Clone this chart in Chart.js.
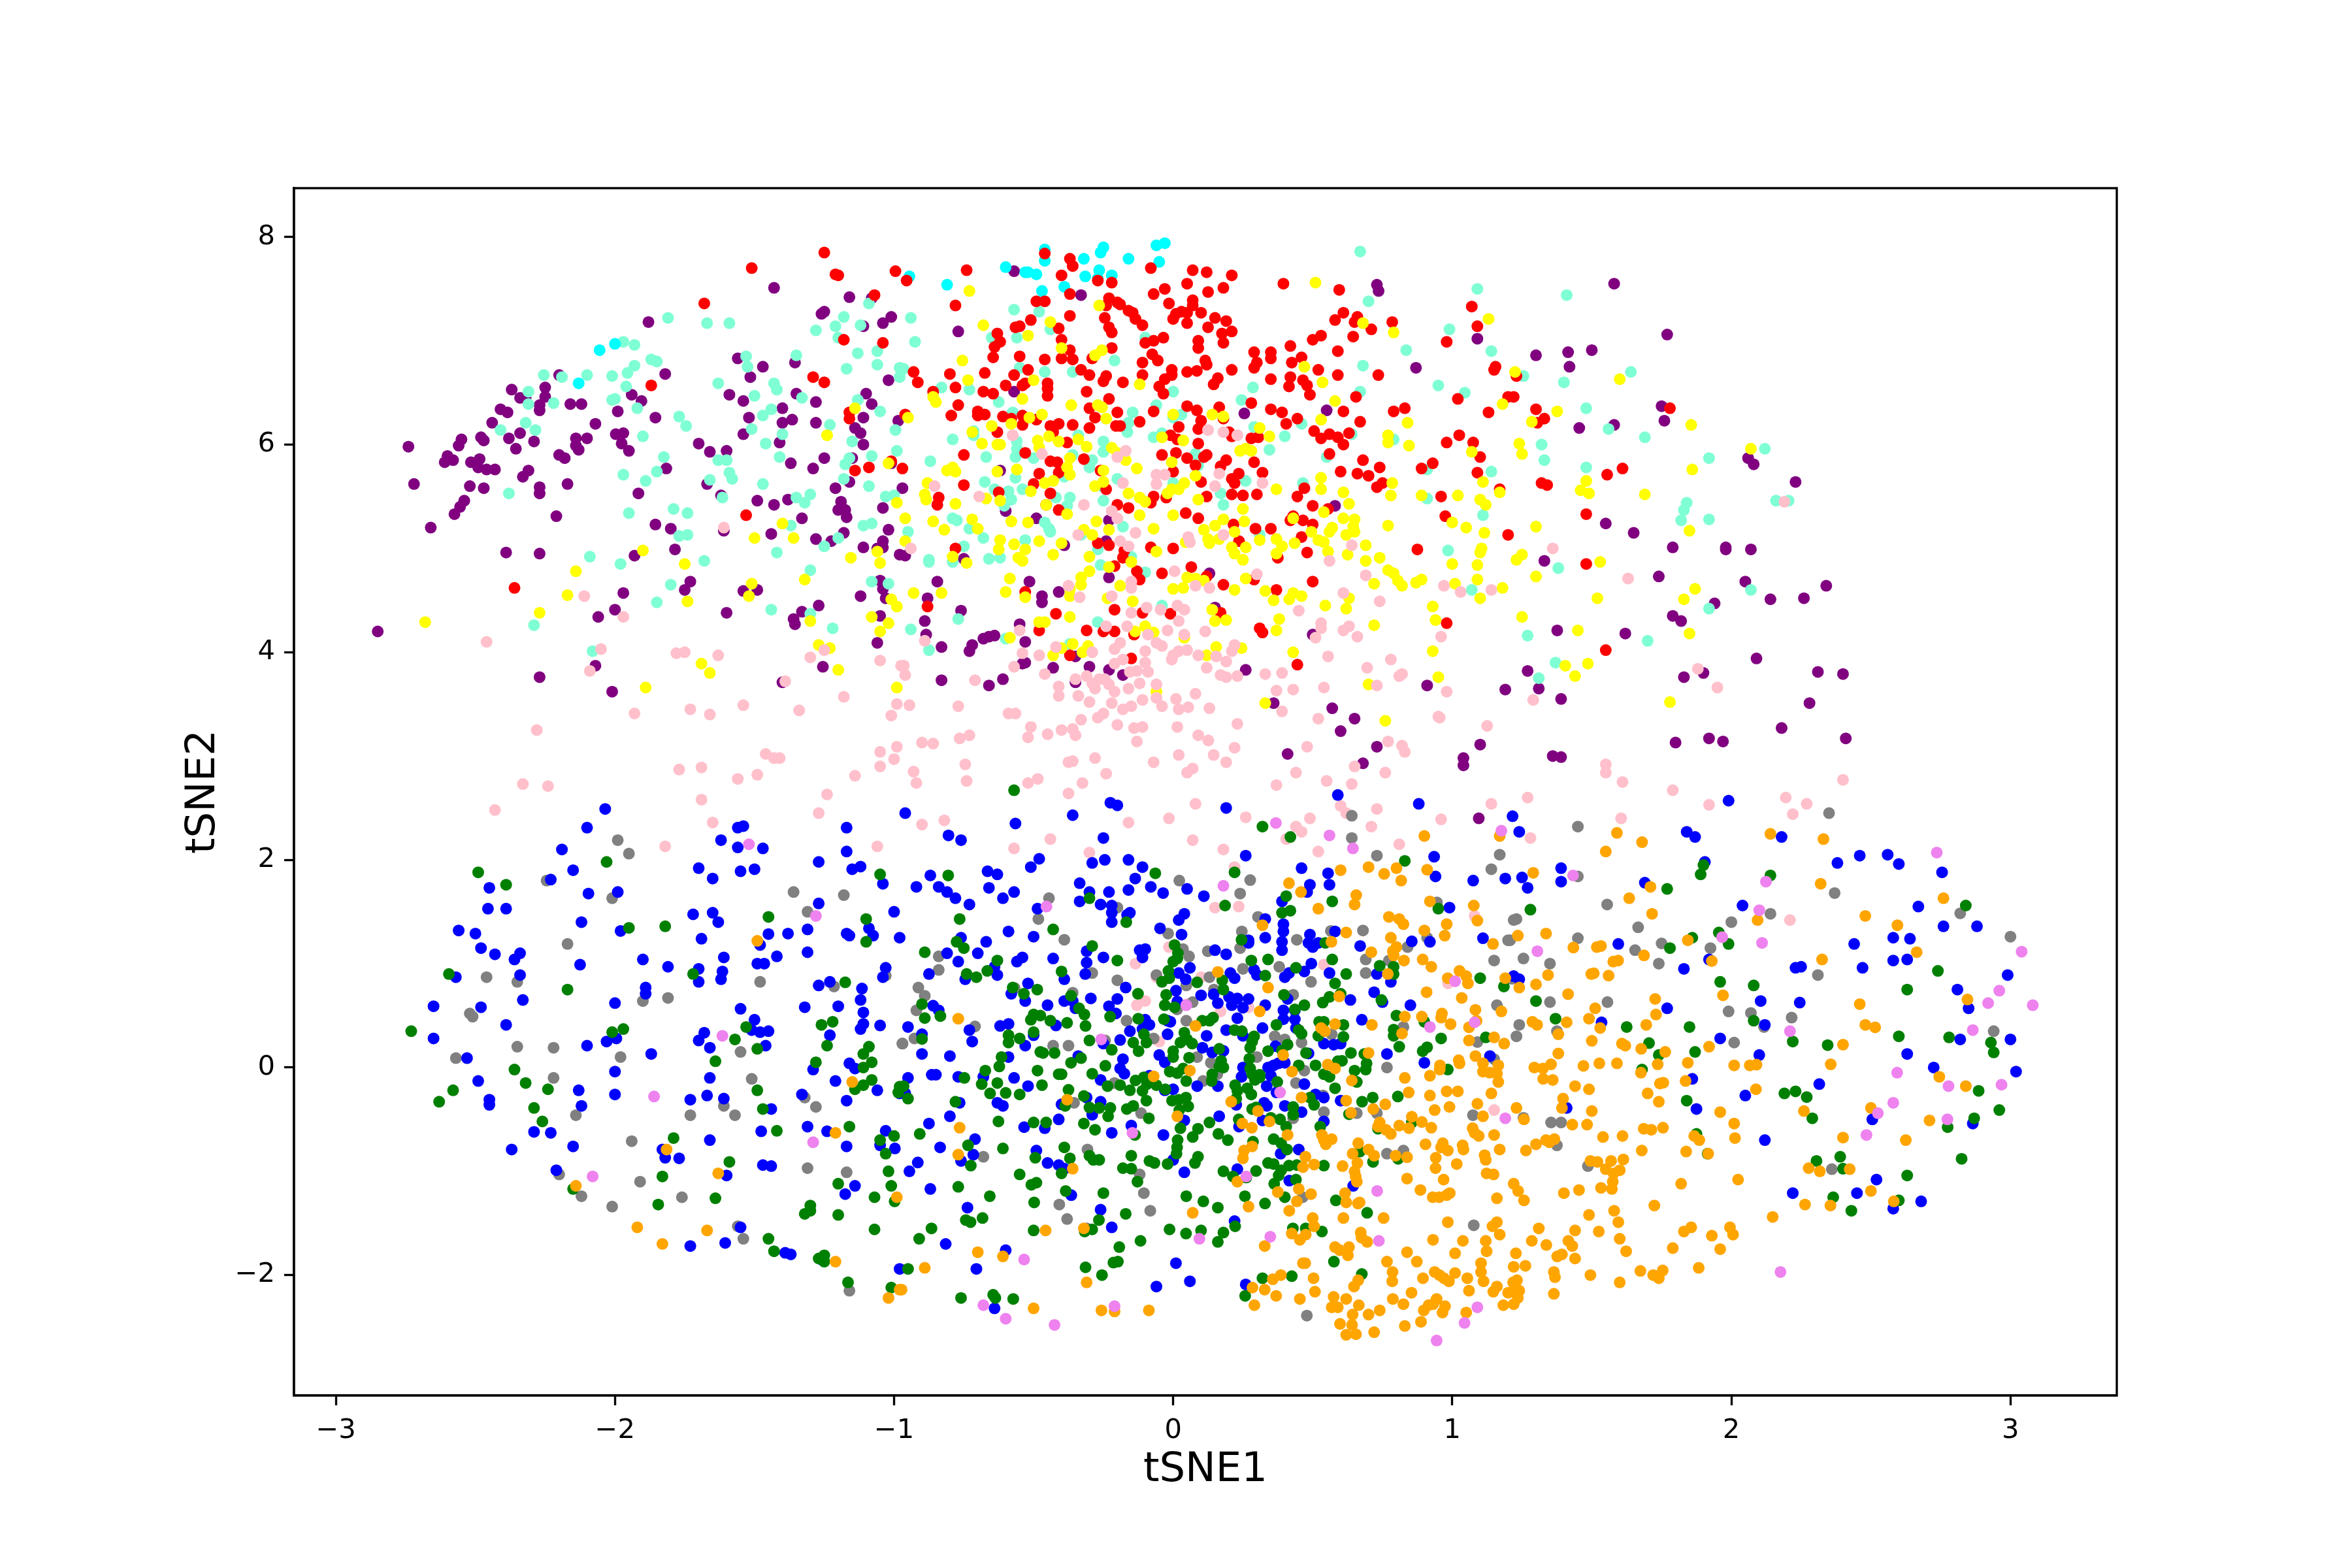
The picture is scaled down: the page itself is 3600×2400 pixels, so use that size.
<!DOCTYPE html>
<html><head><meta charset="utf-8">
<style>html,body{margin:0;padding:0;background:#fff}canvas{display:block}</style>
<script src="https://cdn.jsdelivr.net/npm/chart.js@4/dist/chart.umd.min.js"></script>
</head><body><canvas id="c" width="3600" height="2400" style="width:3600px;height:2400px"></canvas>
<script>
const xLabel="tSNE1", yLabel="tSNE2";
const purple=[[-2.85,4.2],[-2.74,5.98],[-2.72,5.62],[-2.66,5.2],[-2.6,5.89],[-2.61,5.83],[-2.58,5.85],[-2.575,5.33],[-2.555,5.4],[-2.54,5.46],[-2.52,5.6],[-2.47,5.58],[-2.55,6.05],[-2.56,5.99],[-2.516,5.83],[-2.485,5.86],[-2.49,5.78],[-2.46,5.76],[-2.43,5.76],[-2.48,6.07],[-2.47,6.04],[-2.44,6.21],[-2.38,6.06],[-2.355,5.96],[-2.34,6.11],[-2.29,6.03],[-2.41,6.34],[-2.385,6.31],[-2.37,6.53],[-2.34,6.45],[-2.32,6.45],[-2.27,6.33],[-2.27,6.38],[-2.25,6.46],[-2.25,6.55],[-2.2,6.67],[-2.16,6.39],[-2.12,6.39],[-2.07,6.2],[-2.14,6.06],[-2.14,5.99],[-2.13,5.95],[-2.1,6.06],[-2.2,5.9],[-2.18,5.87],[-2.31,5.75],[-2.33,5.69],[-2.27,5.59],[-2.27,5.53],[-2.17,5.62],[-2.21,5.31],[-2.39,4.96],[-2.27,4.95],[-1.99,6.32],[-1.997,6.1],[-1.97,6.11],[-1.976,6.01],[-1.95,5.94],[-1.94,6.48],[-1.905,6.42],[-1.88,7.18],[-1.82,6.68],[-1.855,6.26],[-1.816,5.77],[-1.916,5.53],[-1.855,5.23],[-1.8,5.19],[-1.785,4.99],[-1.93,4.93],[-1.73,4.68],[-1.75,4.6],[-1.97,4.57],[-2,4.41],[-2.06,4.34],[-2.07,3.87],[-2.27,3.76],[-2.01,3.62],[-1.7,6.01],[-1.66,5.93],[-1.6,5.94],[-1.67,5.62],[-1.62,5.51],[-1.56,6.83],[-1.515,6.65],[-1.47,6.75],[-1.355,6.79],[-1.59,6.48],[-1.54,6.42],[-1.52,6.26],[-1.54,6.1],[-1.4,6.35],[-1.4,6.21],[-1.365,6.24],[-1.41,6.02],[-1.35,6.49],[-1.28,6.41],[-1.28,6.21],[-1.37,5.82],[-1.25,5.87],[-1.29,5.77],[-1.49,5.46],[-1.43,5.42],[-1.38,5.47],[-1.33,5.29],[-1.44,5.14],[-1.28,5.09],[-1.61,5.17],[-1.54,4.59],[-1.49,4.6],[-1.6,4.38],[-1.27,4.45],[-1.36,4.32],[-1.355,4.27],[-1.33,4.39],[-1.255,3.86],[-1.4,3.71],[-1.43,7.51],[-1.16,7.42],[-1.08,7.41],[-1.26,7.26],[-1.25,7.28],[-1.11,7.14],[-1.04,7.17],[-1.01,7.23],[-1.02,6.62],[-1.1,6.49],[-1.08,6.39],[-1.11,6.26],[-1.14,6.16],[-1.12,6.11],[-1.11,6],[-0.985,6.23],[-1.15,5.87],[-1.21,5.58],[-1.16,5.64],[-1.19,5.45],[-1.2,5.37],[-1.175,5.37],[-1.17,5.3],[-1.18,5.15],[-1.225,5.07],[-1.11,5.01],[-1.02,5.18],[-1.04,5.39],[-1.04,5.07],[-1.06,5],[-1.04,5.01],[-0.98,4.94],[-1.05,4.69],[-1.04,4.61],[-1.03,4.52],[-1.12,4.54],[-1.05,4.35],[-1.06,4.09],[-1.01,5.82],[-0.77,7.09],[-0.57,7.67],[-0.33,7.44],[-0.57,6.51],[-0.62,5.75],[-0.97,5.58],[-0.96,4.93],[-0.75,4.9],[-0.845,4.68],[-0.88,4.52],[-0.89,4.3],[-0.885,4.17],[-0.76,4.4],[-0.83,4.05],[-0.73,4.01],[-0.72,4.07],[-0.68,4.13],[-0.66,4.15],[-0.64,4.16],[-0.55,4.27],[-0.53,4.1],[-0.515,4.68],[-0.47,4.54],[-0.47,4.48],[-0.41,4.58],[-0.49,5.29],[-0.6,5.36],[-0.39,5.03],[-0.24,5.07],[-0.23,5.27],[-0.23,4.72],[0.13,4.76],[0.15,4.43],[0.58,5.41],[0.55,6.33],[0.255,6.3],[0.73,7.54],[0.736,7.48],[0.87,6.74],[1.09,7.02],[-0.83,3.73],[-0.66,3.68],[-0.61,3.74],[-0.54,3.89],[-0.53,3.9],[-0.43,3.85],[-0.35,3.96],[-0.3,3.86],[-0.23,3.83],[-0.18,3.78],[-0.35,3.71],[0.26,3.83],[0.5,4.17],[0.36,3.51],[0.57,3.46],[0.65,3.36],[0.6,3.24],[0.73,3.09],[0.41,3.02],[0.68,2.93],[0.91,3.68],[1.1,3.11],[1.04,2.98],[1.04,2.91],[1.19,3.64],[1.095,2.4],[1.58,7.55],[1.77,7.06],[1.3,6.86],[1.415,6.89],[1.5,6.91],[1.42,6.75],[1.75,6.37],[1.76,6.23],[1.455,6.16],[1.58,6.19],[2.06,5.87],[2.08,5.81],[2.23,5.64],[1.55,5.24],[1.65,5.15],[1.79,5.01],[1.98,5.01],[1.98,4.99],[2.07,4.99],[1.33,4.88],[1.74,4.73],[2.05,4.68],[2.14,4.51],[2.26,4.52],[2.34,4.64],[1.94,4.47],[1.79,4.35],[1.82,4.3],[1.376,4.21],[1.62,4.18],[2.09,3.94],[1.27,3.82],[1.9,3.8],[1.83,3.76],[2.31,3.81],[2.4,3.79],[1.31,3.65],[1.39,3.55],[2.28,3.51],[2.18,3.27],[2.41,3.17],[1.92,3.17],[1.97,3.14],[1.8,3.13],[1.36,3],[1.39,2.99]];
const aquamarine=[[-1.81,7.22],[-1.67,7.17],[-1.59,7.17],[-1.97,6.99],[-1.93,6.96],[-1.87,6.82],[-1.85,6.8],[-1.93,6.76],[-1.955,6.69],[-2.01,6.66],[-1.96,6.56],[-2.1,6.67],[-2.19,6.65],[-2.255,6.67],[-2.31,6.51],[-2.31,6.39],[-2.22,6.4],[-2.01,6.43],[-2,6.44],[-1.92,6.35],[-2.32,6.21],[-2.41,6.14],[-2.285,6.14],[-1.9,6.08],[-1.825,5.88],[-1.85,5.74],[-1.89,5.65],[-1.97,5.71],[-2.38,5.53],[-1.95,5.34],[-1.79,5.38],[-1.74,5.34],[-1.77,5.12],[-1.74,5.13],[-2.09,4.92],[-1.98,4.85],[-1.68,4.88],[-1.8,4.65],[-1.85,4.48],[-2.29,4.26],[-2.08,4.01],[-1.77,6.27],[-1.745,6.18],[-1.63,6.59],[-1.53,6.85],[-1.525,6.75],[-1.5,6.47],[-1.47,6.28],[-1.44,6.34],[-1.51,6.15],[-1.46,6.01],[-1.4,6.1],[-1.41,5.88],[-1.43,6.59],[-1.42,6.53],[-1.35,6.86],[-1.33,6.45],[-1.63,5.85],[-1.6,5.85],[-1.59,5.73],[-1.58,5.67],[-1.66,5.66],[-1.615,5.49],[-1.47,5.62],[-1.35,5.49],[-1.3,5.52],[-1.32,5.44],[-1.37,5.22],[-1.2,5.1],[-1.25,5.02],[-1.42,4.96],[-1.3,4.79],[-1.44,4.41],[-1.3,4.37],[-1.22,4.23],[-1.08,4.68],[-1.02,4.66],[-1.28,7.1],[-1.21,7.14],[-1.18,7.23],[-1.2,7.03],[-1.12,7.15],[-1.09,7.36],[-1.13,6.88],[-1.06,6.9],[-1.06,6.77],[-1.17,6.73],[-1.13,6.43],[-1.05,6.32],[-1.23,6.19],[-1.15,6.03],[-0.995,6.14],[-1.08,5.89],[-0.99,5.94],[-1.16,5.87],[-1.175,5.81],[-1.18,5.67],[-1.09,5.6],[-1.03,5.5],[-1,5.51],[-1.11,5.22],[-1.08,5.24],[-0.98,6.74],[-0.98,6.65],[-0.94,7.22],[-0.925,6.99],[-0.966,6.73],[-0.83,6.55],[-0.73,6.53],[-0.57,7.3],[-0.48,7.28],[-0.44,7.11],[-0.65,7.03],[-0.56,7.03],[-0.55,6.74],[-0.46,6.7],[-0.36,6.7],[-0.625,6.41],[-0.575,6.31],[-0.1,7.03],[-0.21,6.81],[0,6.51],[-0.06,6.38],[-0.145,6.31],[-0.16,6.21],[-0.164,6.12],[0,6.26],[0.03,6.29],[0.245,6.43],[0.286,6.55],[0.67,6.51],[0.68,6.76],[0.7,7.38],[0.67,7.86],[1.09,7.5],[0.99,7.11],[0.835,6.91],[1.14,6.9],[0.95,6.57],[1.045,6.5],[1.11,5.32],[0.91,5.48],[0.91,5.76],[1.14,5.74],[0.79,6.05],[0.55,5.88],[0.64,6.1],[0.46,6.2],[0.4,6.08],[0.345,5.95],[0.29,6.17],[0.08,5.91],[0.09,5.8],[-0.04,6.11],[-0.07,6.07],[-0.25,6.03],[-0.25,5.93],[-0.29,5.85],[-0.3,5.78],[-0.34,6.09],[-0.36,5.9],[-0.56,6.03],[-0.56,5.96],[-0.565,5.88],[-0.5,5.87],[-0.715,6.13],[-0.715,6.09],[-0.79,6.05],[-0.87,5.84],[-0.67,5.88],[-0.565,5.68],[-0.675,5.64],[-0.64,5.57],[-0.59,5.55],[-0.54,5.57],[-0.58,5.47],[-0.605,5.41],[-0.39,5.69],[-0.37,5.49],[-0.38,5.41],[-0.42,5.49],[-0.25,5.46],[-0.2,5.67],[-0.25,5.59],[0,5.63],[0.17,5.53],[0.18,5.42],[0.26,5.65],[0.465,5.63],[-0.18,5.21],[-0.33,5.13],[-0.27,4.99],[-0.15,4.92],[-0.26,4.84],[-0.1,4.77],[0.31,5.13],[-0.79,5.29],[-0.775,5.27],[-0.73,5.19],[-0.68,5.1],[-0.75,5.02],[-0.95,5.16],[-0.875,4.89],[-0.875,4.87],[-0.79,4.87],[-0.66,4.9],[-0.62,4.91],[-0.53,5.08],[-0.46,5.25],[-0.445,5.19],[-0.44,5.16],[-0.77,4.32],[-0.94,4.22],[-0.875,4.02],[-0.6,4.13],[-0.27,4.29],[-0.37,4.08],[-0.04,4.45],[0.985,4.98],[1.07,4.6],[1.41,7.44],[1.64,6.7],[1.255,6.66],[1.4,6.6],[1.48,6.35],[1.56,6.15],[1.69,6.07],[1.32,6],[1.33,5.85],[1.48,5.78],[2.12,5.96],[1.92,5.87],[1.84,5.44],[1.83,5.37],[1.82,5.27],[1.92,5.28],[2.16,5.46],[2.205,5.46],[1.38,4.81],[2.07,4.6],[1.92,4.42],[1.27,4.16],[1.7,4.11],[1.37,3.9],[1.31,3.75]];
const cyan=[[-2.055,6.91],[-2,6.97],[-2.13,6.59],[-0.945,7.62],[-0.81,7.54],[-0.6,7.71],[-0.53,7.66],[-0.52,7.66],[-0.49,7.64],[-0.46,7.88],[-0.46,7.77],[-0.47,7.48],[-0.39,7.52],[-0.32,7.79],[-0.315,7.62],[-0.265,7.68],[-0.27,7.6],[-0.26,7.85],[-0.25,7.9],[-0.22,7.63],[-0.16,7.79],[-0.05,7.76],[-0.06,7.92],[-0.03,7.94]];
const red=[[-1.51,7.7],[-1.68,7.36],[-1.87,6.57],[-1.25,7.85],[-1.21,7.64],[-1.2,7.63],[-0.995,7.67],[-1.07,7.44],[-1.18,7.01],[-1.04,6.98],[-1.29,6.65],[-1.25,6.6],[-1.16,6.31],[-1.16,6.25],[-1.14,5.75],[-1.09,5.78],[-1.01,5.84],[-1.53,5.32],[-2.36,4.62],[-0.955,7.58],[-0.74,7.68],[-0.78,7.34],[-0.46,7.84],[-0.37,7.79],[-0.36,7.72],[-0.4,7.63],[-0.37,7.45],[-0.27,7.58],[-0.22,7.56],[-0.08,7.7],[0.07,7.68],[0.12,7.66],[0.21,7.63],[0.05,7.55],[-0.03,7.5],[-0.07,7.45],[0.125,7.47],[0.18,7.51],[0.395,7.55],[0.595,7.49],[-0.49,7.38],[-0.46,7.38],[-0.23,7.41],[-0.24,7.34],[-0.2,7.37],[-0.19,7.35],[-0.16,7.29],[-0.145,7.27],[-0.135,7.21],[-0.11,7.15],[-0.015,7.36],[0.07,7.39],[0.07,7.34],[0.01,7.26],[0.03,7.28],[0.05,7.27],[0,7.21],[0.05,7.17],[0.1,7.27],[0.15,7.22],[0.19,7.19],[0.125,7.13],[0.175,7.07],[0.21,7.09],[0.18,6.98],[0.09,7],[0.09,6.93],[-0.035,7.03],[-0.07,7],[-0.1,6.98],[-0.075,6.87],[-0.055,6.81],[-0.245,7.22],[-0.23,7.13],[-0.22,7.08],[-0.37,7.24],[-0.51,7.2],[-0.565,7.13],[-0.55,7.14],[-0.63,7.07],[-0.62,6.99],[-0.64,6.94],[-0.645,6.84],[-0.55,6.85],[-0.46,6.82],[-0.41,7.12],[-0.4,7.01],[-0.37,6.91],[-0.4,6.83],[-0.36,6.82],[-0.22,6.93],[-0.29,6.83],[-0.93,6.7],[-0.915,6.6],[-0.8,6.68],[-0.78,6.55],[-0.675,6.69],[-0.86,6.51],[-0.77,6.38],[-0.68,6.51],[-0.645,6.49],[-0.6,6.57],[-0.57,6.67],[-0.52,6.72],[-0.54,6.57],[-0.53,6.59],[-0.45,6.59],[-0.45,6.54],[-0.45,6.47],[-0.33,6.72],[-0.3,6.67],[-0.24,6.66],[-0.25,6.61],[-0.31,6.51],[-0.18,6.6],[-0.11,6.79],[-0.11,6.67],[-0.23,6.44],[-0.005,6.72],[-0.005,6.67],[-0.03,6.63],[-0.05,6.56],[-0.035,6.49],[0.05,6.7],[0.085,6.71],[0.115,6.81],[0.12,6.77],[0.21,6.72],[0.16,6.64],[0.145,6.58],[0.29,6.89],[0.3,6.79],[0.29,6.74],[0.35,6.89],[0.35,6.83],[0.35,6.63],[0.42,6.95],[0.425,6.79],[0.46,6.84],[0.5,7.01],[0.53,7.05],[0.58,7.2],[0.61,7.27],[0.66,7.23],[0.65,7.18],[0.645,7.04],[0.71,7.11],[0.59,6.9],[0.52,6.72],[0.42,6.65],[0.415,6.56],[0.465,6.62],[0.48,6.57],[0.49,6.48],[0.59,6.67],[0.735,6.67],[0.785,7.18],[1.07,7.33],[1.09,7.14],[0.98,6.99],[1.15,6.72],[1.155,6.75],[0.655,6.46],[1.02,6.44],[1.13,6.31],[1.2,6.46],[0.61,6.32],[0.67,6.22],[0.79,6.32],[0.83,6.35],[0.35,6.34],[0.39,6.31],[0.405,6.2],[0.445,6.25],[0.28,6.4],[0.165,6.36],[0.18,6.25],[0.05,6.37],[0.085,6.33],[0.1,6.23],[0.09,6.15],[-0.07,6.32],[0.02,6.17],[-0.12,6.22],[-0.2,6.31],[-0.28,6.26],[-0.3,6.35],[-0.3,6.16],[-0.205,6.18],[-0.19,6.18],[-0.36,6.19],[-0.41,6.2],[-0.44,6.18],[-0.43,6.12],[-0.49,6.24],[-0.54,6.28],[-0.54,6.19],[-0.58,6.25],[-0.61,6.27],[-0.63,6.12],[-0.675,6.29],[-0.7,6.32],[-0.7,6.28],[-0.795,6.28],[-0.96,6.29],[-0.75,5.9],[-0.53,5.92],[-0.38,6.02],[-0.44,5.84],[-0.415,5.83],[-0.32,5.86],[-0.48,5.72],[-0.5,5.62],[-0.41,5.73],[-0.26,5.75],[-0.75,5.61],[-0.44,5.53],[-0.625,5.54],[-0.84,5.49],[-0.845,5.42],[-0.97,5.77],[-0.41,5.37],[-0.455,5.42],[-0.24,5.57],[-0.2,5.42],[-0.16,5.39],[-0.07,5.5],[-0.08,5.44],[-0.025,5.49],[0,5.74],[-0.04,5.9],[0.01,5.92],[0.05,5.87],[0.08,5.8],[0.11,5.88],[0.12,5.9],[0.19,5.85],[0.17,5.79],[0.1,5.64],[0.12,5.5],[0.21,5.67],[0.235,5.72],[0.22,5.63],[0.29,5.83],[0.32,5.73],[0.21,5.52],[0.25,5.51],[0.3,5.52],[0.045,5.34],[0.09,5.29],[0.216,5.23],[0.295,5.19],[0.35,5.19],[0.236,5.07],[-0.08,5.01],[0,5],[-0.27,5.05],[-0.23,5.03],[-0.175,4.98],[-0.18,4.91],[-0.78,5],[-0.01,6.09],[0.015,6.05],[0.09,6.01],[0.21,6.08],[0.2,6.12],[0.28,6.06],[0.305,6.07],[0.56,5.91],[0.505,6.13],[0.53,6.06],[0.56,6.1],[0.59,6.07],[0.61,6],[0.63,6.11],[0.98,6.02],[1.025,6.09],[1.075,6.02],[1.1,5.88],[0.68,5.85],[0.74,5.78],[0.6,5.74],[0.66,5.72],[0.7,5.7],[0.73,5.59],[0.75,5.63],[0.47,5.58],[0.445,5.5],[0.5,5.41],[0.555,5.38],[0.96,5.5],[0.89,5.77],[0.93,5.82],[1.09,5.73],[1.17,5.57],[0.975,5.31],[0.43,5.31],[0.42,5.27],[0.465,5.27],[0.5,5.23],[0.46,5.11],[0.48,4.96],[0.875,4.99],[1.2,5.13],[0.375,4.91],[0.065,4.82],[-0.04,4.76],[-0.13,4.78],[-0.12,4.7],[-0.21,4.83],[0.18,4.65],[0.29,4.7],[0.12,4.73],[0.37,4.6],[0.5,4.68],[0.17,4.38],[-0.01,4.37],[-0.11,4.38],[-0.21,4.41],[-0.42,4.37],[-0.53,4.58],[-0.88,4.44],[-0.48,4.21],[-0.31,4.21],[-0.25,4.2],[-0.21,4.2],[-0.14,4.17],[0.31,4.23],[0.32,4.19],[0.98,4.28],[0.445,3.88],[-0.15,3.94],[-0.37,3.97],[1.23,6.66],[1.22,6.46],[1.3,6.34],[1.33,6.25],[1.305,6.21],[1.78,6.35],[1.555,5.71],[1.61,5.77],[1.32,5.63],[1.34,5.61],[1.48,5.33],[1.48,4.85],[1.55,4.02]];
const yellow=[[-2.68,4.29],[-2.27,4.38],[-2.14,4.78],[-2.17,4.55],[-1.9,4.98],[-1.75,4.85],[-1.74,4.49],[-1.51,4.66],[-1.52,4.54],[-1.5,5.1],[-1.4,5.24],[-1.36,5.1],[-1.24,6.09],[-1.14,6.35],[-1.02,5.82],[-0.99,5.44],[-1.155,4.91],[-1.06,4.97],[-1.05,4.86],[-1.32,4.7],[-1.01,4.51],[-0.99,4.44],[-1.08,4.34],[-1.02,4.28],[-1.05,4.2],[-1.3,4.3],[-1.27,4.07],[-1.23,4.04],[-1.2,3.83],[-1.69,3.89],[-1.66,3.8],[-1.89,3.66],[-0.99,3.66],[-0.73,7.48],[-0.68,7.15],[-0.44,7.18],[-0.52,7.05],[-0.755,6.81],[-0.735,6.62],[-0.5,6.62],[-0.4,6.93],[-0.28,6.86],[-0.255,6.91],[-0.265,7.34],[-0.12,6.58],[0.51,7.56],[0.68,7.17],[0.79,7.08],[1.13,7.21],[0.47,6.75],[0.535,6.6],[0.58,6.42],[0.53,6.24],[0.84,6.21],[0.77,6.09],[0.77,6.02],[0.845,5.99],[1.18,6.39],[1.07,5.93],[-0.86,6.46],[-0.85,6.41],[-0.95,6.26],[-0.54,6.44],[-0.47,6.29],[-0.365,6.38],[-0.27,6.38],[-0.255,6.36],[-0.24,6.25],[0,6.29],[0.14,6.29],[0.18,6.27],[0.31,6.16],[0.345,6.08],[-0.65,6.18],[-0.72,6.12],[-0.685,6.01],[-0.63,6],[-0.62,6],[-0.58,6.2],[-0.515,6.26],[-0.445,6.08],[-0.41,6.03],[-0.485,6.04],[-0.48,5.97],[-0.34,6.05],[-0.31,5.98],[-0.37,5.87],[-0.38,5.78],[-0.37,5.71],[-0.22,5.97],[-0.2,5.92],[-0.17,5.85],[-0.13,5.77],[-0.04,6.07],[0.036,6.04],[-0.005,5.83],[0.24,5.94],[0.26,5.96],[0.28,5.94],[-0.81,5.75],[-0.79,5.78],[-0.78,5.74],[-0.56,5.76],[-0.63,5.74],[-0.25,5.75],[-0.88,5.63],[-0.89,5.52],[-0.885,5.47],[-0.78,5.43],[-0.67,5.48],[-0.62,5.46],[-0.51,5.55],[-0.46,5.63],[-0.43,5.65],[-0.28,5.6],[-0.25,5.64],[-0.16,5.53],[-0.12,5.49],[-0.1,5.45],[-0.02,5.53],[-0.005,5.57],[0.02,5.57],[0.04,5.63],[0.08,5.7],[0.09,5.47],[0.37,5.57],[0.53,5.68],[0.53,5.57],[0.61,5.54],[0.63,5.43],[0.785,5.63],[0.78,5.51],[0.89,5.51],[1.02,5.51],[1.11,5.64],[1.1,5.47],[1.12,5.42],[1.17,5.54],[1,5.25],[1.05,5.2],[1.115,5.15],[0.77,5.22],[0.61,5.29],[0.65,5.28],[0.645,5.21],[0.65,5.16],[0.62,5.13],[0.57,5.2],[0.56,5.16],[0.54,5.35],[0.43,5.29],[0.495,5.16],[0.52,5.08],[0.54,5.06],[0.435,5.05],[0.37,5.09],[0.39,5.02],[0.37,4.95],[0.555,4.97],[0.69,5.03],[0.625,4.94],[0.69,4.88],[0.74,4.91],[0.77,4.79],[0.79,4.76],[0.72,4.66],[0.805,4.69],[0.82,4.64],[0.87,4.67],[0.89,4.7],[1,4.85],[1.01,4.66],[1.09,4.84],[1.09,4.7],[1.1,4.96],[1.105,5],[1.1,4.52],[1.18,4.62],[0.93,4.44],[0.94,4.31],[0.72,4.26],[0.93,4.01],[0.95,3.76],[0.7,3.69],[0.76,3.34],[0.43,4],[0.62,4.42],[0.63,4.52],[0.545,4.45],[0.43,4.57],[0.416,4.51],[0.46,4.54],[0.36,4.5],[0.33,4.59],[0.22,4.6],[0.26,4.71],[0.38,4.32],[0.37,4.21],[0.154,4.05],[0.12,3.97],[0.245,4.04],[0.33,3.51],[0.19,4.31],[0.15,4.3],[0.14,4.41],[0,4.61],[0.036,4.62],[0.05,4.72],[0.08,4.71],[0.11,4.69],[0.045,5.06],[-0.07,5.19],[-0.12,5.32],[0,5.32],[0.11,5.18],[0.125,5.09],[0.13,5.05],[0.165,5.09],[0.15,5.22],[0.18,5.28],[0.25,5.38],[0.255,5.26],[0.22,5.16],[0.31,5.08],[0.26,5.01],[0.21,5.01],[0.22,4.95],[0.25,4.89],[-0.06,4.97],[-0.15,4.87],[-0.23,5.18],[-0.275,5.26],[-0.29,5.13],[-0.32,5.18],[-0.38,5.33],[-0.455,5.42],[-0.52,5.25],[-0.58,5.26],[-0.7,5.19],[-0.72,5.28],[-0.82,5.18],[-0.86,5.26],[-0.96,5.29],[-0.96,5.07],[-0.62,5.08],[-0.625,4.99],[-0.57,5.04],[-0.53,4.99],[-0.555,4.91],[-0.54,4.88],[-0.48,5.07],[-0.43,4.94],[-0.4,5.05],[-0.3,4.92],[-0.79,4.92],[-0.74,4.86],[-0.3,4.78],[-0.33,4.72],[-0.33,4.65],[-0.585,4.71],[-0.6,4.58],[-0.93,4.57],[-0.83,4.57],[-0.53,4.53],[-0.37,4.61],[-0.37,4.54],[-0.235,4.52],[-0.23,4.82],[-0.19,4.64],[-0.145,4.49],[-0.37,4.34],[-0.48,4.29],[-0.46,4.29],[-0.585,4.14],[-0.136,4.2],[-0.1,4.25],[-0.07,4.19],[0.04,4.14],[-0.305,4.06],[-0.36,4.08],[-0.325,4],[-0.4,4.04],[-0.43,3.97],[-0.06,3.62],[1.225,6.7],[1.6,6.63],[1.376,6.32],[1.285,6.22],[1.856,6.19],[1.24,6.01],[1.25,5.91],[2.07,5.96],[1.86,5.76],[1.48,5.65],[1.46,5.56],[1.49,5.53],[1.69,5.52],[1.3,5.21],[1.85,5.17],[1.25,4.94],[1.23,4.89],[1.53,4.87],[1.3,4.73],[1.87,4.61],[1.83,4.51],[1.52,4.52],[1.25,4.34],[1.45,4.21],[1.85,4.18],[1.405,3.87],[1.486,3.89],[1.44,3.77],[1.78,3.52]];
const pink=[[-2.11,4.54],[-1.97,4.34],[-2.46,4.1],[-2.05,4.03],[-2.09,3.82],[-1.78,3.99],[-1.75,4],[-1.63,3.97],[-1.61,5.2],[-1.39,3.72],[-1.3,3.95],[-1.25,4.02],[-1.05,3.92],[-0.975,3.87],[-1.18,3.57],[-0.99,3.5],[-1.01,3.39],[-1.93,3.41],[-1.73,3.45],[-1.66,3.4],[-1.54,3.49],[-1.34,3.44],[-2.28,3.25],[-1.46,3.02],[-1.43,2.98],[-1.41,2.98],[-1.77,2.87],[-1.69,2.89],[-1.56,2.78],[-1.49,2.82],[-2.33,2.73],[-2.24,2.71],[-1.05,3.04],[-0.99,3.09],[-1,2.97],[-1.05,2.9],[-1.14,2.81],[-2.43,2.48],[-1.69,2.58],[-1.65,2.36],[-1.82,2.13],[-1.24,2.63],[-1.27,2.45],[-1.06,2.13],[-0.575,6.09],[-0.47,5.91],[-0.17,5.94],[-0.2,5.88],[0.125,6.14],[0.18,6.12],[0.23,6.09],[-0.06,5.71],[-0.03,5.71],[-0.06,5.62],[-0.18,5.63],[0.165,5.72],[0.15,5.6],[0.32,5.63],[-0.855,5.6],[-0.695,5.5],[-0.32,5.42],[-0.22,5.36],[-0.2,5.29],[-0.135,5.15],[0.054,5.11],[0.06,5.06],[0.18,5.13],[-0.34,5.13],[-0.19,5.07],[-0.16,5.02],[-0.94,5],[0.64,5.03],[0.56,4.88],[0.69,4.74],[0.61,4.57],[0.74,4.49],[0.45,4.4],[0.005,4.78],[0.3,4.75],[0.08,4.64],[0.13,4.62],[-0.15,4.62],[-0.15,4.68],[-0.22,4.54],[-0.335,4.53],[-0.375,4.64],[0.97,4.64],[1.03,4.58],[1.14,4.6],[-0.095,4.43],[-0.15,4.38],[-0.045,4.41],[0.015,4.45],[0.04,4.41],[0.02,4.3],[-0.165,4.25],[-0.24,4.25],[-0.02,4.21],[-0.09,4.17],[-0.55,4.21],[-0.89,4.11],[0.115,4.2],[0.04,4.17],[0.53,4.28],[0.53,4.23],[0.61,4.21],[0.63,4.25],[0.66,4.15],[0.96,4.15],[0.51,4.14],[0.22,4.07],[0.21,4.01],[0.154,3.96],[0.19,3.91],[0.09,3.97],[0.12,3.85],[0.05,4.02],[0.02,4.01],[0,3.97],[-0.005,3.93],[-0.06,4.09],[-0.04,4.06],[-0.1,4.01],[-0.19,4.09],[-0.21,4.03],[-0.29,4],[-0.42,4.05],[-0.48,3.97],[-0.54,3.99],[-0.57,3.86],[-0.46,3.79],[-0.71,3.73],[-0.965,3.87],[-0.96,3.78],[-0.945,3.49],[-0.77,3.48],[-0.59,3.41],[-0.565,3.41],[-0.41,3.67],[-0.41,3.58],[-0.35,3.74],[-0.34,3.58],[-0.3,3.52],[-0.31,3.77],[-0.29,3.7],[-0.28,3.65],[-0.265,3.74],[-0.245,3.74],[-0.23,3.69],[-0.21,3.62],[-0.16,3.65],[-0.22,3.51],[-0.18,3.45],[-0.15,3.48],[-0.11,3.54],[-0.06,3.56],[-0.04,3.48],[-0.12,3.7],[-0.06,3.69],[0.01,3.55],[0.02,3.45],[0.054,3.47],[0.08,3.6],[0.13,3.46],[-0.21,3.89],[-0.18,3.93],[-0.155,3.81],[-0.13,3.82],[-0.1,3.9],[-0.09,3.81],[-0.33,3.35],[-0.27,3.37],[-0.25,3.41],[-0.2,3.3],[-0.14,3.27],[-0.11,3.28],[0.015,3.28],[0.23,3.31],[0.09,3.2],[0.126,3.15],[-0.13,3.14],[-0.51,3.28],[-0.52,3.18],[-0.45,3.21],[-0.4,3.25],[-0.36,3.26],[-0.35,3.2],[-0.765,3.17],[-0.73,3.2],[-0.9,3.13],[-0.86,3.12],[0.22,3.08],[0.02,3.01],[0.145,3.01],[-0.375,2.94],[-0.36,2.95],[-0.28,2.98],[-0.07,2.94],[0.19,2.94],[0.07,2.88],[0.05,2.84],[-0.745,2.92],[-0.93,2.85],[-0.92,2.74],[-0.74,2.76],[-0.52,2.74],[-0.485,2.78],[-0.325,2.74],[-0.24,2.83],[0.33,3.79],[0.39,3.8],[0.17,3.78],[0.19,3.76],[0.23,3.77],[0.37,3.63],[0.43,3.64],[0.54,3.66],[0.81,3.77],[0.82,3.79],[0.73,3.68],[0.695,3.85],[0.78,3.93],[0.555,3.96],[0.39,3.43],[0.52,3.36],[0.98,3.62],[0.95,3.38],[0.955,3.37],[1.125,3.29],[0.77,3.14],[0.82,3.1],[0.83,3.04],[0.48,3.09],[0.65,2.9],[0.76,2.84],[0.44,2.84],[0.55,2.76],[0.64,2.73],[0.37,2.72],[-0.9,2.34],[-0.82,2.38],[-0.57,2.11],[-0.44,2.2],[-0.375,2.64],[-0.16,2.36],[-0.015,2.4],[0.08,2.54],[0.07,2.19],[0.26,2.41],[0.18,2.1],[-0.3,2.07],[0.49,2.4],[0.44,2.32],[0.46,2.27],[0.405,2.2],[0.52,2.08],[0.6,2.52],[0.62,2.45],[0.73,2.49],[0.71,2.32],[0.96,2.39],[1.14,2.54],[0.81,2.15],[0.22,1.93],[0.15,1.54],[0.235,1.55],[-0.015,1.16],[-0.135,1],[-0.06,0.87],[0.1,0.87],[-0.13,0.6],[-0.1,0.64],[0.05,0.61],[0.17,0.54],[0.27,0.58],[-0.05,0.25],[0.54,0.99],[0.985,0.81],[1.08,1.46],[1.15,-0.41],[1.36,5],[1.63,4.71],[2.19,5.45],[1.29,3.54],[1.88,3.84],[1.95,3.66],[1.55,2.92],[1.55,2.84],[1.61,2.75],[1.79,2.67],[2.4,2.77],[1.27,2.6],[1.605,2.4],[1.28,2.21],[1.92,2.53],[2.195,2.6],[2.27,2.54],[2.22,2.44],[2.21,1.42]];
const blue=[[-2.035,2.49],[-2.1,2.31],[-2.19,2.1],[-2.15,1.9],[-2.23,1.81],[-2.095,1.675],[-1.99,1.69],[-2.45,1.73],[-2.455,1.53],[-2.39,1.53],[-2.56,1.32],[-2.5,1.29],[-2.48,1.15],[-2.43,1.09],[-2.34,1.1],[-2.36,1.04],[-2.12,1.4],[-1.98,1.315],[-2.125,0.99],[-2.34,0.89],[-2.57,0.87],[-2.33,0.65],[-2.65,0.59],[-2.48,0.58],[-2.39,0.41],[-2.65,0.28],[-2.53,0.09],[-1.9,1.04],[-1.81,0.97],[-1.89,0.77],[-1.89,0.71],[-2,0.62],[-2.1,0.21],[-2.03,0.25],[-1.995,0.28],[-1.87,0.13],[-2,-0.04],[-2.49,-0.13],[-2.45,-0.31],[-2.45,-0.36],[-2.13,-0.22],[-2,-0.26],[-2.12,-0.37],[-2.29,-0.62],[-2.23,-0.63],[-2.37,-0.79],[-2.15,-0.76],[-2.21,-0.99],[-1.83,-0.79],[-1.82,-0.87],[-1.77,-0.875],[-1.66,-0.7],[-1.6,-1.04],[-1.73,-1.72],[-1.605,-1.69],[-1.55,-1.54],[-1.39,-1.785],[-1.37,-1.8],[-1.26,-1.85],[-1.62,2.19],[-1.56,2.31],[-1.54,2.325],[-1.56,2.12],[-1.47,2.11],[-1.7,1.92],[-1.65,1.82],[-1.55,1.89],[-1.5,1.91],[-1.72,1.475],[-1.65,1.49],[-1.63,1.4],[-1.69,1.24],[-1.61,1.06],[-1.7,0.95],[-1.615,0.925],[-1.62,0.85],[-1.7,0.825],[-1.48,1.18],[-1.45,1.285],[-1.38,1.29],[-1.31,1.33],[-1.42,1.07],[-1.49,1],[-1.465,1],[-1.31,1.11],[-1.27,1.58],[-1.17,2.31],[-1.17,2.08],[-1.27,1.98],[-1.15,1.91],[-1.12,1.935],[-1.04,1.77],[-1,1.5],[-1.09,1.34],[-1.075,1.27],[-1.17,1.29],[-1.16,1.27],[-0.98,1.25],[-1.03,0.96],[-1.04,0.87],[-1.27,0.79],[-1.23,0.825],[-1.115,0.76],[-1.12,0.65],[-1.11,0.53],[-1.2,0.59],[-1.32,0.58],[-1.55,0.565],[-1.5,0.46],[-1.51,0.36],[-1.48,0.34],[-1.45,0.35],[-1.46,0.21],[-1.68,0.335],[-1.7,0.26],[-1.66,0.19],[-1.11,0.42],[-1.12,0.37],[-1.05,0.405],[-1.23,0.31],[-1.16,0.04],[-1.14,-0.01],[-1.29,-0.02],[-1.21,-0.13],[-1.06,-0.22],[-0.98,-0.25],[-1.66,-0.1],[-1.67,-0.27],[-1.73,-0.31],[-1.61,-0.3],[-1.44,-0.4],[-1.33,-0.26],[-1.17,-0.32],[-1.476,-0.615],[-1.31,-0.57],[-1.24,-0.615],[-1.17,-0.76],[-1.03,-0.61],[-1.05,-0.75],[-0.997,-0.78],[-1.47,-0.94],[-1.44,-0.95],[-1.14,-1.14],[-1.175,-1.22],[-0.98,-1.94],[-0.96,2.45],[-0.36,2.43],[-0.565,2.35],[-0.225,2.55],[-0.2,2.525],[0.19,2.5],[0.59,2.625],[0.88,2.54],[-0.805,2.235],[-0.76,2.19],[-0.25,2.21],[-0.48,2.01],[-0.51,1.93],[-0.245,2],[-0.29,1.97],[-0.16,2],[-0.11,1.93],[0.26,2.04],[0.935,2.03],[0.94,1.84],[1.075,1.8],[1.19,1.82],[0.46,1.92],[0.555,1.87],[0.56,1.76],[0.49,1.76],[0.48,1.69],[-0.87,1.85],[-0.92,1.74],[-0.84,1.74],[-0.81,1.69],[-0.78,1.63],[-0.73,1.57],[-0.665,1.89],[-0.63,1.86],[-0.66,1.73],[-0.61,1.63],[-0.57,1.69],[-0.486,1.53],[-0.335,1.775],[-0.3,1.69],[-0.335,1.6],[-0.23,1.69],[-0.26,1.57],[-0.22,1.56],[-0.22,1.49],[-0.22,1.4],[-0.155,1.49],[-0.165,1.47],[-0.136,1.82],[-0.16,1.71],[-0.08,1.74],[-0.036,1.68],[0.05,1.72],[0.11,1.65],[0.04,1.48],[0.02,1.42],[-0.047,1.34],[0.03,1.28],[-0.59,1.31],[-0.5,1.26],[-0.67,1.21],[-0.76,1.25],[-0.7,1.1],[-0.81,1.1],[-0.77,1.02],[-0.875,0.9],[-0.64,0.97],[-0.63,0.89],[-0.745,0.85],[-0.56,1.02],[-0.54,1.06],[-0.43,1.05],[-0.25,1.06],[-0.31,1.12],[-0.31,1.01],[-0.39,0.85],[-0.315,0.9],[-0.12,1.13],[-0.1,1.14],[-0.11,1.06],[0.06,0.96],[0.02,0.91],[0.045,0.85],[0.19,1.09],[0.15,1.13],[0.33,1.25],[0.27,1.225],[0.27,1.2],[0.33,1.43],[0.39,1.6],[0.395,1.31],[0.39,1.21],[0.39,1.13],[0.49,1.28],[0.52,1.2],[0.5,1.16],[0.58,1.31],[0.67,1.17],[0.855,1.215],[0.92,1.21],[0.99,1.54],[1.11,1.245],[0.495,1],[0.56,0.91],[0.47,0.925],[0.415,0.91],[0.4,0.87],[0.29,0.94],[0.3,0.89],[0.205,0.91],[0.22,0.86],[0.73,0.9],[0.78,0.825],[0.72,0.725],[0.635,0.65],[0.75,0.63],[0.85,0.6],[0.676,0.46],[-0.17,0.77],[-0.2,0.66],[-0.23,0.59],[-0.205,0.52],[-0.295,0.665],[-0.35,0.57],[-0.39,0.64],[-0.45,0.6],[-0.36,0.64],[-0.53,0.64],[-0.52,0.81],[-0.58,0.71],[-0.86,0.595],[-0.84,0.55],[-0.95,0.39],[-0.9,0.32],[-0.73,0.36],[-0.72,0.25],[-0.62,0.4],[-0.59,0.42],[-0.42,0.405],[-0.5,0.31],[-0.53,0.21],[-0.9,0.13],[-0.8,0.11],[-0.59,0.1],[-0.34,0.11],[-0.25,0.23],[-0.19,0.265],[-0.155,0.35],[-0.11,0.37],[-0.1,0.46],[-0.085,0.41],[-0.02,0.32],[-0.02,0.45],[-0.01,0.44],[0.01,0.74],[0.015,0.635],[0.1,0.695],[0.145,0.705],[0.16,0.62],[0.2,0.68],[0.23,0.665],[0.21,0.6],[0.27,0.66],[0.25,0.575],[0.33,0.6],[0.23,0.475],[0.395,0.55],[0.395,0.465],[0.436,0.465],[0.44,0.38],[0.32,0.38],[0.19,0.36],[0.12,0.305],[0.25,0.305],[0.367,0.205],[0.54,0.23],[0.575,0.22],[0.6,0.23],[0.766,0.13],[0.9,0.045],[1.135,0.11],[0.105,0.19],[0.14,0.145],[0.18,0.16],[-0.05,0.12],[-0.03,0.05],[-0.18,0.08],[-0.19,-0.01],[-0.175,-0.06],[-0.95,-0.1],[-0.865,-0.07],[-0.85,-0.07],[-0.77,-0.09],[-0.68,-0.09],[-0.57,-0.1],[-0.52,-0.18],[-0.26,-0.12],[-0.085,-0.08],[-0.96,-0.25],[-0.765,-0.34],[-0.63,-0.34],[-0.61,-0.37],[-0.8,-0.47],[-0.875,-0.54],[-0.71,-0.69],[-0.835,-0.77],[-0.716,-0.84],[-0.76,-0.9],[-0.915,-0.915],[-0.945,-1],[-0.87,-1.17],[-0.737,-1.35],[-0.815,-1.7],[-0.6,-1.76],[-0.705,-1.94],[-0.534,-0.575],[-0.46,-0.585],[-0.41,-0.5],[-0.29,-0.455],[-0.4,-0.355],[-0.31,-0.29],[-0.26,-0.33],[-0.22,-0.63],[-0.49,-0.8],[-0.45,-0.92],[-0.41,-0.94],[-0.39,-0.975],[-0.365,-1.23],[-0.26,-1.37],[-0.22,-1.54],[-0.15,-0.56],[-0.035,-0.65],[0,-0.89],[0.04,-0.51],[0.165,-0.47],[0.04,-1.01],[0.22,-1.48],[0.01,-1.885],[-0.06,-2.11],[0.06,-2.06],[-0.64,-2.32],[0.26,-2.09],[0.23,-0.98],[0.416,-1.09],[0.645,-1.14],[0.385,-0.83],[0.45,-0.79],[0.236,-0.57],[0.54,-0.52],[0.32,-0.51],[0.336,-0.37],[0.326,-0.34],[0.226,-0.36],[0.4,-0.37],[0.46,-0.43],[0.6,-0.32],[0.37,-0.24],[0.51,-0.26],[0.47,-0.16],[0.335,-0.18],[0.54,-0.29],[0.25,0],[0.245,-0.09],[0.34,0],[0.36,0.02],[0.377,0.04],[0.4,0.045],[0.35,-0.08],[0.16,-0.18],[0.086,-0.18],[0,-0.21],[-0.03,-0.22],[0.485,0.135],[0.436,0.55],[0.41,0.66],[0.485,1.2],[0.395,1.38],[1.99,2.57],[1.216,2.42],[1.24,2.27],[1.84,2.27],[1.87,2.22],[2.18,2.22],[2.38,1.97],[2.46,2.04],[2.56,2.05],[2.6,1.96],[1.905,1.98],[2.755,1.88],[1.39,1.92],[1.25,1.83],[1.39,1.79],[1.27,1.73],[1.69,1.78],[2.04,1.56],[2.67,1.55],[2.76,1.36],[2.88,1.36],[2.58,1.25],[2.64,1.24],[2.44,1.19],[1.595,1.19],[1.92,1.04],[1.83,0.95],[2.23,0.96],[2.25,0.97],[2.47,0.96],[2.58,1.03],[2.63,1.04],[2.99,0.89],[2.81,0.75],[2.85,0.57],[2.105,0.64],[2.245,0.625],[1.77,0.57],[1.535,0.435],[2.12,0.41],[1.22,0.88],[1.24,0.85],[1.96,0.28],[2.1,0.12],[2.82,0.27],[3,0.27],[2.63,0.13],[2.725,0],[3.02,-0.04],[1.86,-0.11],[2.315,-0.16],[2.05,-0.27],[1.875,-0.4],[1.41,-0.39],[2.505,-0.5],[2.865,-0.54],[2.12,-0.7],[2.52,-1.08],[2.22,-1.21],[2.45,-1.21],[2.68,-1.29],[2.58,-1.36]];
const green=[[-2.49,1.88],[-2.39,1.76],[-2.03,1.98],[-1.95,1.345],[-1.82,1.36],[-1.45,1.45],[-2.595,0.9],[-2.17,0.75],[-2.73,0.35],[-2.01,0.34],[-1.97,0.37],[-2.36,-0.02],[-2.32,-0.15],[-2.24,-0.21],[-2.58,-0.22],[-2.63,-0.33],[-2.29,-0.39],[-2.26,-0.52],[-1.79,-0.68],[-1.72,0.9],[-1.53,0.39],[-1.57,0.27],[-1.49,0.18],[-1.64,0.06],[-1.49,-0.22],[-1.47,-0.4],[-1.42,-0.61],[-1.59,-0.91],[-1.83,-1.05],[-2.15,-1.17],[-1.845,-1.32],[-1.64,-1.26],[-1.45,-1.65],[-1.43,-1.77],[-1.27,-1.84],[-1.25,-1.81],[-1.25,-1.87],[-1.165,-2.07],[-1.175,0.82],[-1.05,1.86],[-1.1,1.43],[-1.1,1.21],[-1.26,0.41],[-1.22,0.44],[-1.24,0.21],[-1.28,0.05],[-1.09,0.2],[-1.11,0.13],[-1.08,0.05],[-1.11,0],[-1.08,-0.12],[-1.11,-0.17],[-1.14,-0.21],[-0.98,-0.185],[-0.985,-0.24],[-1.16,-0.57],[-1,-0.66],[-1.05,-0.7],[-1.03,-0.83],[-1.02,-1],[-1.01,-1.14],[-1.2,-1.12],[-1.07,-1.25],[-0.998,-1.29],[-1.3,-1.33],[-1.3,-1.38],[-1.32,-1.41],[-1.2,-1.42],[-1.07,-1.56],[-1.01,-2.12],[-0.57,2.67],[0.32,2.32],[0.42,2.22],[0.83,1.99],[-0.806,1.85],[-0.064,1.87],[0.22,1.88],[0.405,1.65],[0.39,1.49],[0.42,1.51],[0.57,1.6],[0.186,1.56],[0.95,1.53],[-0.3,1.63],[-0.765,1.43],[-0.168,1.4],[-0.43,1.33],[-0.776,1.21],[-0.75,1.15],[-0.89,1.11],[-0.29,1.17],[-0.63,1.03],[-0.2,1.03],[0.005,1.18],[0.017,1.1],[0,1.02],[0.015,1.05],[0.245,1.23],[0.28,1.03],[0.34,1.04],[0.545,1.2],[0.57,1.04],[0.74,0.98],[0.79,0.97],[0.79,0.9],[0.44,0.96],[0.62,0.9],[0.58,0.81],[1.1,0.86],[1.185,0.78],[-0.74,0.9],[-0.705,0.87],[-0.666,0.93],[-0.4,0.925],[-0.017,0.93],[-0.014,0.86],[-0.04,0.825],[0.086,0.82],[0.176,0.84],[0.18,0.75],[0.33,0.885],[-0.575,0.77],[-0.487,0.75],[-0.535,0.71],[-0.366,0.69],[-0.126,0.71],[-0.025,0.7],[0.397,0.7],[0.6,0.71],[0.56,0.68],[0.536,0.625],[0.47,0.6],[0.436,0.56],[0.746,0.65],[-0.9,0.61],[-0.89,0.476],[-0.834,0.495],[-0.337,0.57],[-0.318,0.51],[-0.314,0.4],[-0.226,0.49],[-0.03,0.6],[0.005,0.58],[-0.51,0.46],[-0.5,0.51],[-0.476,0.5],[-0.44,0.45],[-0.38,0.43],[-0.5,0.34],[-0.125,0.47],[-0.033,0.465],[0.104,0.45],[0.13,0.45],[0.143,0.48],[0.523,0.44],[0.54,0.44],[0.61,0.41],[0.8,0.5],[0.9,0.44],[0.45,0.36],[0.46,0.325],[0.37,0.41],[0.246,0.35],[0.22,0.36],[0.29,0.3],[0.52,0.305],[0.61,0.295],[0.79,0.365],[0.79,0.305],[0.96,0.28],[1.12,0.29],[-0.9,0.275],[-0.59,0.31],[-0.55,0.28],[-0.59,0.24],[-0.3,0.26],[-0.105,0.32],[-0.143,0.24],[-0.096,0.24],[0.04,0.335],[0.026,0.24],[0.068,0.23],[0.05,0.27],[0.283,0.25],[0.276,0.19],[0.41,0.22],[0.81,0.2],[0.91,0.195],[0.894,0.157],[-0.476,0.15],[-0.466,0.14],[-0.425,0.14],[-0.22,0.17],[-0.124,0.157],[0,0.157],[0.165,0.18],[0.34,0.157],[0.39,0.165],[0.476,0.14],[0.637,0.14],[0.685,0.13],[-0.615,0.1],[0,0.1],[0.057,0.094],[0.273,0.083],[0.59,0.06],[0.605,0.064],[-0.33,0.09],[-0.623,0.01],[-0.366,0.045],[-0.243,0.016],[0.172,0.064],[0.165,0.01],[0.18,0],[0.276,-0.01],[0.45,0.02],[0.51,0.02],[0.693,0.038],[0.69,-0.02],[0.65,-0.03],[0.984,-0.02],[-0.673,-0.03],[-0.486,-0.03],[-0.41,-0.065],[-0.4,-0.065],[-0.29,-0.06],[-0.012,-0.04],[0.015,-0.055],[0.036,-0.01],[0.283,-0.065],[0.31,-0.07],[0.54,-0.065],[0.56,-0.09],[0.14,-0.065],[0.138,-0.13],[-0.748,-0.1],[-0.686,-0.16],[-0.63,-0.15],[-0.47,-0.17],[-0.235,-0.18],[-0.19,-0.17],[-0.135,-0.125],[-0.105,-0.095],[-0.094,-0.16],[-0.06,-0.17],[0.047,-0.13],[0.293,-0.12],[0.31,-0.095],[0.373,-0.14],[0.58,-0.2],[0.658,-0.14],[0.222,-0.17],[-0.966,-0.18],[-0.656,-0.25],[-0.6,-0.245],[-0.55,-0.26],[-0.375,-0.215],[-0.155,-0.22],[-0.11,-0.225],[-0.028,-0.21],[0.23,-0.225],[0.266,-0.2],[0.28,-0.26],[0.226,-0.3],[-0.95,-0.3],[-0.78,-0.33],[-0.32,-0.275],[-0.096,-0.32],[-0.004,-0.32],[0.02,-0.31],[0.046,-0.29],[0.054,-0.375],[0.022,-0.41],[-0.387,-0.37],[-0.3,-0.385],[-0.265,-0.39],[-0.225,-0.39],[-0.233,-0.47],[-0.166,-0.4],[-0.143,-0.37],[-0.087,-0.49],[0.49,-0.29],[0.505,-0.36],[0.43,-0.38],[0.43,-0.455],[0.283,-0.4],[0.297,-0.385],[0.677,-0.33],[0.715,-0.29],[0.805,-0.28],[0.63,-0.45],[-0.626,-0.52],[-0.5,-0.53],[-0.455,-0.53],[-0.32,-0.54],[-0.28,-0.6],[0.235,-0.5],[0.35,-0.485],[0.383,-0.5],[0.405,-0.57],[0.527,-0.57],[0.855,-0.53],[0.734,-0.59],[-0.908,-0.64],[-0.137,-0.65],[0.026,-0.585],[0.089,-0.59],[0.07,-0.67],[0.13,-0.53],[0.162,-0.64],[0.196,-0.7],[0.016,-0.7],[0.014,-0.77],[0.012,-0.83],[-0.735,-0.75],[-0.61,-0.78],[-0.39,-0.77],[0.286,-0.715],[0.36,-0.69],[0.387,-0.73],[0.408,-0.79],[0.669,-0.81],[-0.494,-0.87],[-0.37,-0.875],[-0.3,-0.85],[-0.286,-0.89],[-0.265,-0.89],[-0.15,-0.85],[-0.085,-0.9],[-0.067,-0.92],[-0.02,-0.93],[0.078,-0.92],[0.089,-0.86],[0.34,-0.92],[0.36,-0.93],[0.415,-0.945],[0.443,-0.94],[0.54,-0.945],[0.716,-0.91],[0.806,-0.88],[-0.725,-0.945],[-0.18,-0.97],[-0.15,-0.975],[0.18,-1],[0.297,-0.997],[0.387,-0.99],[0.378,-1.04],[-0.55,-1.03],[-0.4,-1.02],[0.214,-1.05],[0.262,-1.06],[0.44,-1.08],[-0.128,-1.1],[-0.508,-1.13],[-0.49,-1.11],[-0.77,-1.15],[0.362,-1.12],[-0.385,-1.19],[-0.25,-1.21],[-0.657,-1.24],[0.047,-1.24],[0.257,-1.24],[0.4,-1.25],[-0.498,-1.3],[0.108,-1.29],[0.16,-1.35],[0.329,-1.31],[0.583,-1.28],[-0.17,-1.41],[0.695,-1.4],[-0.743,-1.47],[-0.726,-1.49],[-0.683,-1.45],[-0.266,-1.47],[-0.866,-1.55],[-0.5,-1.57],[-0.317,-1.58],[-0.29,-1.56],[-0.013,-1.56],[0.046,-1.6],[0.1,-1.57],[0.18,-1.59],[0.222,-1.53],[0.429,-1.55],[0.475,-1.55],[0.533,-1.58],[-0.91,-1.65],[-0.117,-1.67],[0.16,-1.68],[-0.193,-1.73],[-0.214,-1.88],[-0.198,-1.87],[-0.314,-1.925],[-0.255,-2],[0.576,-1.87],[0.676,-1.99],[0.425,-2.01],[0.32,-2.03],[0.258,-2.2],[-0.95,-1.94],[-0.76,-2.22],[-0.645,-2.19],[-0.637,-2.22],[-0.573,-2.23],[1.9,1.95],[1.89,1.86],[2.14,1.85],[1.77,1.72],[1.28,1.52],[2.84,1.56],[1.955,1.3],[1.86,1.25],[1.78,1.15],[1.99,1.19],[2.74,0.93],[1.96,0.825],[2.08,0.79],[2.63,0.75],[1.3,0.64],[1.37,0.47],[1.625,0.39],[1.85,0.39],[2.08,0.45],[2.6,0.3],[2.78,0.29],[2.93,0.24],[2.94,0.145],[2.22,0.25],[2.345,0.215],[1.705,0.235],[1.74,0.12],[1.87,0.15],[1.68,-0.02],[1.84,-0.32],[2.19,-0.25],[2.23,-0.23],[2.27,-0.285],[2.29,-0.49],[2.886,-0.225],[2.96,-0.41],[2.87,-0.49],[2.775,-0.575],[1.875,-0.64],[1.875,-0.66],[1.915,-0.83],[2.39,-0.86],[2.305,-0.9],[2.4,-0.975],[2.825,-0.88],[2.63,-1.04],[2.365,-1.25],[2.43,-1.38],[2.6,-1.28]];
const gray=[[-1.99,2.19],[-1.95,2.06],[-2.245,1.8],[-2.01,1.63],[-2.17,1.19],[-2.46,0.87],[-2.35,0.825],[-2.52,0.52],[-2.51,0.49],[-2.35,0.2],[-2.22,0.19],[-2.57,0.09],[-1.98,0.1],[-2.22,-0.1],[-2.14,-0.46],[-1.81,0.67],[-1.9,0.64],[-1.55,0.15],[-1.48,0.825],[-1.36,1.69],[-1.18,1.66],[-1.31,1.5],[-1.215,0.78],[-1.03,0.885],[-0.97,0.23],[-1.51,-0.11],[-1.61,-0.37],[-1.73,-0.46],[-1.57,-0.46],[-1.32,-0.29],[-1.28,-0.38],[-1.94,-0.71],[-2.2,-1.03],[-1.91,-1.1],[-2.12,-1.24],[-1.76,-1.25],[-2.01,-1.34],[-1.31,-0.97],[-1.17,-1.01],[-1.56,-1.53],[-1.54,-1.65],[-1.16,-2.15],[0.64,2.425],[0.64,2.21],[0.73,2.04],[1.17,2.05],[1.14,1.91],[0.276,1.805],[0.24,1.675],[0.022,1.8],[-0.445,1.63],[-0.2,1.54],[-0.483,1.43],[-0.39,1.23],[0.945,1.59],[0.304,1.45],[0.246,1.31],[0.24,1.15],[-0.018,1.29],[0.565,1.315],[0.68,1.32],[0.443,1.23],[0.035,1.14],[0.057,1.07],[0.124,1.12],[0.91,1.25],[0.84,1.16],[0.69,1.04],[0.69,0.91],[1.15,1.03],[1.2,1.225],[-0.84,1.07],[-0.84,0.94],[-0.29,0.91],[-0.2,0.84],[-0.06,0.89],[0.13,0.87],[0.25,0.95],[0.38,0.97],[0.494,0.825],[0.773,1.03],[-0.913,0.77],[-0.89,0.69],[-0.92,0.55],[-0.568,0.765],[-0.36,0.72],[0.047,0.79],[0.146,0.75],[0.07,0.63],[0.43,0.7],[0.014,0.56],[-0.167,0.45],[0.047,0.45],[1.16,0.6],[-0.71,0.395],[-0.927,0.28],[-0.97,0.23],[-0.43,0.21],[-0.375,0.21],[-0.244,0.26],[-0.07,0.28],[0.364,0.3],[0.4,0.27],[0.46,0.24],[0.568,0.32],[0.825,0.39],[1.09,0.245],[0.086,0.1],[0.3,0.1],[0.135,0.045],[0.766,0],[1.15,0.08],[0.47,-0.03],[0.107,-0.13],[0.158,-0.065],[-0.21,-0.15],[0.44,-0.15],[0.537,-0.27],[-0.355,-0.34],[-0.115,-0.44],[0.54,-0.43],[0.43,-0.49],[0.658,-0.44],[0.73,-0.44],[1.074,-0.46],[-0.307,-0.79],[-0.68,-0.86],[0.825,-0.8],[0.766,-0.83],[-0.12,-1.03],[-0.105,-1.21],[-0.408,-1.32],[-0.082,-1.38],[-0.38,-1.46],[0.464,-1.25],[-0.31,-1.55],[1.077,-1.52],[0.479,-2.39],[1.45,2.32],[2.35,2.45],[1.45,1.84],[1.555,1.57],[2.37,1.68],[2.14,1.48],[2,1.4],[1.22,1.42],[1.23,1.43],[1.666,1.35],[1.45,1.245],[1.207,1.225],[1.75,1.195],[1.655,1.13],[1.925,1.15],[1.255,1.05],[1.35,1],[1.74,1],[2.31,0.89],[1.214,0.855],[1.556,0.63],[1.35,0.63],[1.99,0.54],[2.07,0.525],[2.216,0.48],[1.24,0.41],[1.23,0.3],[1.375,0.35],[2.117,0.39],[2.01,0.24],[2.94,0.35],[2.82,1.485],[3,1.26],[1.255,-0.485],[1.354,-0.53],[1.39,-0.53],[1.375,-0.75],[1.486,-0.95],[2.36,-0.98]];
const orange=[[-1.49,1.22],[-1.15,-0.14],[-1.21,-0.63],[-1.815,-0.79],[-1.63,-1.02],[-2.14,-1.14],[-1.92,-1.54],[-1.67,-1.57],[-1.83,-1.7],[-1.21,-1.87],[-0.99,-1.25],[-1.02,-2.22],[-0.98,-2.14],[-0.77,0.47],[-0.765,-0.58],[-0.77,-0.84],[-0.7,-1.78],[-0.61,-1.82],[-0.89,-1.93],[-0.973,-2.14],[-0.457,-1.57],[-0.5,-2.32],[-0.31,-2.07],[-0.257,-2.34],[-0.21,-2.35],[-0.087,-2.34],[0.07,-1.4],[-0.38,-0.31],[-0.36,-0.975],[-0.32,-1.55],[-0.07,-0.085],[0.06,-0.03],[0.015,-0.47],[0.16,0.92],[0.08,0.4],[0.31,0.54],[0.32,1.37],[0.415,1.775],[0.458,1.69],[0.52,1.53],[0.6,1.9],[0.656,1.66],[0.65,1.57],[0.62,1.3],[0.567,1.21],[0.9,2.23],[0.7,1.93],[0.756,1.865],[0.8,1.92],[0.817,1.8],[0.91,1.905],[0.92,1.6],[1.077,1.56],[1.09,1.415],[1.17,2.23],[0.773,1.45],[0.81,1.43],[0.825,1.38],[0.9,1.32],[0.98,1.38],[0.973,1.27],[0.78,1.25],[0.8,1.16],[0.787,1.12],[0.79,1.08],[0.71,1.11],[0.827,1.03],[0.894,1.04],[0.925,0.97],[1.146,1.19],[0.769,0.9],[1.026,0.93],[1.05,0.88],[1.056,0.81],[0.984,0.86],[1.19,0.86],[0.908,0.725],[1.034,0.67],[0.34,0.77],[0.595,0.685],[1.083,0.555],[1.176,0.54],[0.963,0.52],[0.96,0.48],[0.891,0.49],[0.83,0.49],[0.994,0.417],[1.087,0.45],[1.06,0.387],[0.712,0.41],[0.58,0.417],[0.53,0.38],[0.544,0.35],[0.82,0.327],[1.06,0.26],[1.15,0.29],[1.186,0.23],[0.394,0.12],[0.7,0.14],[1.083,0.11],[1.023,0.07],[1.026,0.04],[0.956,0.02],[1.11,0.04],[1.165,0.02],[1.11,-0.04],[1.134,-0.05],[1.16,-0.06],[0.955,-0.02],[0.92,-0.08],[0.83,-0.1],[0.554,0.027],[0.58,-0.01],[0.426,-0.04],[0.64,-0.125],[1.165,-0.14],[0.844,-0.24],[0.92,-0.27],[0.98,-0.23],[1.02,-0.23],[1.14,-0.25],[0.46,-0.29],[0.62,-0.32],[0.208,-0.33],[0.76,-0.355],[0.937,-0.41],[0.99,-0.38],[1.09,-0.35],[0.717,-0.4],[0.637,-0.437],[0.304,-0.42],[1.11,-0.47],[0.855,-0.475],[0.74,-0.53],[0.734,-0.57],[0.81,-0.56],[0.891,-0.525],[0.925,-0.58],[1.073,-0.585],[0.345,-0.52],[0.248,-0.54],[0.282,-0.58],[0.41,-0.65],[0.533,-0.65],[0.568,-0.69],[0.547,-0.74],[0.54,-0.7],[0.762,-0.6],[0.78,-0.64],[0.845,-0.585],[1.08,-0.63],[1.095,-0.66],[1.15,-0.65],[0.904,-0.74],[0.966,-0.73],[0.96,-0.77],[0.984,-0.8],[1.037,-0.75],[1.04,-0.79],[1.17,-0.79],[0.663,-0.73],[0.7,-0.79],[0.72,-0.85],[0.283,-0.76],[0.254,-0.8],[0.25,-0.875],[0.474,-0.86],[0.643,-0.83],[0.838,-0.865],[0.797,-0.85],[0.941,-0.87],[1.116,-0.845],[1.12,-0.89],[0.505,-0.935],[0.465,-0.96],[0.607,-0.95],[0.66,-0.92],[1.016,-0.93],[0.94,-0.97],[0.65,-1],[1.123,-1.02],[1.148,-1.03],[0.654,-1.05],[0.838,-1.07],[0.969,-1.08],[0.23,-1.1],[0.658,-1.1],[0.45,-1.17],[0.375,-1.2],[0.494,-1.22],[0.886,-1.18],[0.616,-1.21],[0.93,-1.25],[0.953,-1.25],[0.98,-1.23],[0.991,-1.21],[1.16,-1.26],[0.62,-1.3],[0.662,-1.31],[0.443,-1.29],[0.668,-1.3],[0.27,-1.34],[0.416,-1.38],[0.61,-1.45],[0.754,-1.45],[0.5,-1.45],[0.505,-1.53],[0.984,-1.49],[1.144,-1.53],[1.16,-1.49],[1.17,-1.61],[0.672,-1.59],[0.675,-1.64],[0.695,-1.68],[0.475,-1.61],[0.425,-1.6],[0.454,-1.66],[0.931,-1.66],[1.038,-1.67],[1.12,-1.67],[0.328,-1.72],[0.58,-1.73],[0.597,-1.76],[0.63,-1.73],[0.838,-1.78],[1.123,-1.77],[1.01,-1.79],[0.626,-1.81],[0.873,-1.87],[0.465,-1.885],[0.473,-1.885],[0.766,-1.87],[1.103,-1.885],[0.937,-1.97],[0.954,-2],[1.01,-1.98],[0.786,-1.97],[1.103,-1.97],[0.386,-2],[0.357,-2.04],[0.503,-2.03],[0.895,-2.03],[0.97,-2.03],[0.988,-2.06],[1.054,-2.03],[0.663,-2.05],[1.112,-2.06],[0.785,-2.06],[0.648,-2.11],[0.284,-2.12],[1.16,-2.11],[1.147,-2.16],[0.328,-2.14],[0.508,-2.16],[1.06,-2.15],[0.854,-2.17],[0.369,-2.2],[0.575,-2.21],[0.62,-2.23],[0.454,-2.23],[0.787,-2.23],[0.944,-2.23],[1.2,-2.17],[0.291,-2.29],[0.665,-2.29],[0.825,-2.28],[0.568,-2.31],[0.59,-2.31],[0.915,-2.29],[0.931,-2.28],[0.974,-2.3],[1.183,-2.29],[0.898,-2.34],[0.74,-2.34],[0.965,-2.36],[0.643,-2.38],[0.7,-2.38],[1.05,-2.36],[0.888,-2.45],[0.83,-2.49],[0.598,-2.47],[0.641,-2.48],[0.72,-2.55],[0.62,-2.575],[0.655,-2.57],[1.59,2.26],[1.68,2.17],[1.55,2.08],[2.14,2.25],[2.33,2.2],[1.29,1.875],[1.71,1.74],[2.32,1.77],[1.634,1.63],[1.716,1.48],[2.76,1.63],[2.48,1.46],[2.094,1.42],[2.595,1.37],[1.235,1.27],[1.336,1.29],[1.844,1.225],[1.434,1.155],[1.518,1.16],[1.533,1.17],[1.687,1.08],[2.664,1.11],[2.325,1.04],[1.93,1.025],[1.577,1.02],[1.594,1.03],[1.343,0.89],[1.498,0.9],[1.507,0.907],[1.56,0.885],[1.3,0.8],[1.24,0.77],[1.415,0.706],[1.97,0.695],[1.727,0.66],[1.512,0.57],[1.49,0.47],[1.73,0.51],[2.846,0.655],[2.46,0.61],[1.41,0.435],[1.287,0.44],[1.304,0.41],[1.53,0.38],[1.695,0.41],[2.48,0.41],[2.515,0.387],[1.38,0.32],[1.5,0.257],[1.608,0.23],[1.62,0.21],[2.4,0.22],[1.92,0.2],[1.677,0.18],[1.763,0.15],[1.38,0.135],[1.354,0.03],[1.294,0],[1.325,-0.01],[1.47,0.015],[1.527,0.04],[1.59,0.04],[1.736,0.03],[1.844,0.045],[2.01,0.02],[2.066,0.02],[2.09,0.027],[2.356,0.03],[1.326,-0.11],[1.36,-0.12],[1.676,-0.05],[1.836,-0.13],[1.744,-0.155],[1.756,-0.147],[1.44,-0.18],[1.49,-0.21],[2.088,-0.21],[2.745,-0.09],[2.84,-0.18],[1.7,-0.25],[1.397,-0.3],[1.74,-0.33],[1.393,-0.39],[1.23,-0.39],[1.5,-0.42],[1.96,-0.43],[2.26,-0.42],[2.5,-0.39],[1.257,-0.5],[1.43,-0.55],[1.483,-0.55],[2.01,-0.54],[2.71,-0.51],[1.686,-0.59],[1.713,-0.6],[1.755,-0.58],[1.54,-0.67],[1.61,-0.66],[2.013,-0.68],[2.4,-0.675],[2.625,-0.7],[1.867,-0.66],[1.885,-0.7],[1.366,-0.69],[1.336,-0.7],[1.348,-0.72],[1.3,-0.74],[1.264,-0.8],[1.679,-0.8],[1.838,-0.81],[1.917,-0.83],[1.495,-0.9],[1.52,-0.91],[1.569,-0.9],[1.613,-0.886],[2.277,-0.97],[2.317,-1],[2.424,-0.98],[1.55,-0.98],[1.6,-0.99],[1.578,-1.02],[2.024,-1.08],[1.82,-1.12],[1.22,-1.12],[1.236,-1.19],[1.575,-1.1],[1.533,-1.16],[1.572,-1.17],[1.454,-1.18],[1.4,-1.21],[1.257,-1.28],[2.5,-1.19],[1.724,-1.33],[2.264,-1.32],[2.355,-1.33],[2.582,-1.29],[1.58,-1.38],[1.49,-1.42],[2.148,-1.44],[1.595,-1.49],[1.31,-1.55],[1.44,-1.57],[1.525,-1.58],[1.856,-1.54],[1.83,-1.58],[1.995,-1.54],[2.006,-1.61],[1.93,-1.62],[1.6,-1.65],[1.285,-1.67],[1.416,-1.67],[1.43,-1.72],[1.337,-1.71],[1.623,-1.77],[1.79,-1.74],[1.96,-1.75],[1.228,-1.79],[1.376,-1.82],[1.393,-1.8],[1.44,-1.84],[1.262,-1.91],[1.22,-1.92],[1.883,-1.93],[1.364,-1.97],[1.368,-2.02],[1.495,-2],[1.674,-1.96],[1.754,-1.955],[1.72,-2],[1.74,-2.03],[1.6,-2.07],[1.232,-2.05],[1.218,-2.07],[1.24,-2.15],[1.218,-2.16],[1.235,-2.22],[1.364,-2.18],[1.22,-2.28]];
const violet=[[-1.52,2.15],[-1.28,1.46],[-1.615,0.305],[-1.86,-0.28],[-1.29,-0.72],[-2.08,-1.05],[0.368,2.355],[0.56,2.235],[0.644,2.11],[1.176,2.28],[0.18,1.75],[-0.454,1.55],[0.92,0.39],[-0.258,0.27],[0.383,-0.24],[1.01,0.83],[1.08,0.435],[1.19,-0.49],[0.047,0.6],[-0.146,-0.63],[0.262,-1.05],[0.731,-1.19],[0.094,-1.65],[0.348,-1.63],[0.737,-1.67],[-0.534,-1.85],[-0.21,-2.3],[-0.68,-2.29],[-0.6,-2.42],[-0.425,-2.48],[1.09,-2.31],[1.044,-2.46],[0.944,-2.63],[1.433,1.85],[2.124,1.79],[2.736,2.07],[2.1,1.515],[1.967,1.255],[2.11,1.2],[1.305,1.12],[3.04,1.115],[2.96,0.74],[2.92,0.62],[3.08,0.6],[2.865,0.36],[2.21,0.35],[2.594,-0.05],[2.778,-0.18],[2.968,-0.166],[2.58,-0.34],[2.525,-0.44],[2.774,-0.5],[2.484,-0.65],[2.176,-1.97]];
const xTicks=[-3,-2,-1,0,1,2,3];
const yTicks=[-2,0,2,4,6,8];

const toPts=a=>a.map(p=>({x:p[0],y:p[1]}));
// First dataset is painted last (topmost).
const series=[[violet,'#ee82ee'],[orange,'#ffa500'],[green,'#008000'],[blue,'#0000ff'],[gray,'#808080'],
 [pink,'#ffc0cb'],[yellow,'#ffff00'],[red,'#ff0000'],[cyan,'#00ffff'],[aquamarine,'#7fffd4'],[purple,'#800080']];
const frame={id:'frame',afterDatasetsDraw(c){const a=c.chartArea,g=c.ctx;g.save();g.strokeStyle='#000';g.lineWidth=3.33;
 g.strokeRect(a.left,a.top,a.right-a.left,a.bottom-a.top);g.restore();}};
const font={family:'"DejaVu Sans"',size:41.67};
const fmt=v=>String(v).replace('-','\u2212');
new Chart(document.getElementById('c'),{
 type:'scatter',plugins:[frame],
 data:{datasets:series.map(([d,c])=>({data:toPts(d),backgroundColor:c,borderWidth:0,pointRadius:9,pointHoverRadius:9}))},
 options:{responsive:false,animation:false,devicePixelRatio:1,
  layout:{padding:{top:288,right:360,left:0,bottom:0}},
  plugins:{legend:{display:false},tooltip:{enabled:false}},
  scales:{
   x:{type:'linear',min:-3.15,max:3.381,afterFit(s){s.height=264;},
    afterBuildTicks(s){s.ticks=xTicks.map(v=>({value:v}));},
    grid:{drawOnChartArea:false,drawTicks:true,tickLength:15,tickWidth:3.33,tickColor:'#000'},
    border:{color:'#000',width:3.33},
    ticks:{font,color:'#000',padding:14,maxRotation:0,autoSkip:false,callback:fmt},
    title:{display:true,text:xLabel,color:'#000',font:{family:'"DejaVu Sans"',size:62.5},padding:{top:0,bottom:112}}},
   y:{type:'linear',min:-3.16,max:8.47,afterFit(s){s.width=450;},
    afterBuildTicks(s){s.ticks=yTicks.map(v=>({value:v}));},
    grid:{drawOnChartArea:false,drawTicks:true,tickLength:15,tickWidth:3.33,tickColor:'#000'},
    border:{color:'#000',width:3.33},
    ticks:{font,color:'#000',padding:14,autoSkip:false,callback:fmt},
    title:{display:true,text:yLabel,color:'#000',font:{family:'"DejaVu Sans"',size:62.5},padding:{top:274,bottom:0}}}
  }}
});
</script></body></html>
